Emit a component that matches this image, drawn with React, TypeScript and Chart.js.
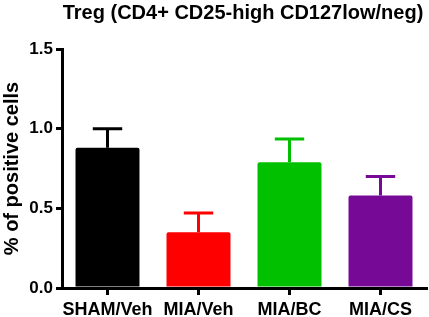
import React, { useEffect, useRef } from "react";
import { Chart, registerables } from "chart.js";

Chart.register(...registerables);

const categories = ["SHAM/Veh", "MIA/Veh", "MIA/BC", "MIA/CS"];
const means = [0.88, 0.35, 0.79, 0.58];
const errorTops = [1.0, 0.47, 0.935, 0.7];
const barColors = ["#000000", "#ff0000", "#00c000", "#760a96"];
const yTicks = [0, 0.5, 1.0, 1.5];
const chartTitle = "Treg (CD4+ CD25-high CD127low/neg)";
const yTitle = "% of positive cells";

const FONT = "'Liberation Sans', Arial, Helvetica, sans-serif";

const errorBarPlugin = {
  id: "errorBars",
  afterDatasetsDraw(chart: any) {
    const ctx = chart.ctx;
    const meta = chart.getDatasetMeta(0);
    const y = chart.scales.y;
    ctx.save();
    meta.data.forEach((bar: any, i: number) => {
      const x = bar.x;
      const top = y.getPixelForValue(errorTops[i]);
      const base = y.getPixelForValue(means[i]);
      const capHalf = bar.width * 0.23;
      ctx.strokeStyle = barColors[i];
      ctx.lineWidth = 3;
      ctx.lineCap = "butt";
      ctx.beginPath();
      ctx.moveTo(x, base);
      ctx.lineTo(x, top);
      ctx.moveTo(x - capHalf, top);
      ctx.lineTo(x + capHalf, top);
      ctx.stroke();
    });
    ctx.restore();
  },
};

const titlePlugin = {
  id: "centeredTitle",
  afterDraw(chart: any) {
    const { ctx, chartArea } = chart;
    ctx.save();
    ctx.font = `bold 20px ${FONT}`;
    ctx.fillStyle = "#000";
    ctx.textAlign = "center";
    ctx.textBaseline = "alphabetic";
    ctx.fillText(chartTitle, (chartArea.left + chartArea.right) / 2 - 1, 19);
    ctx.restore();
  },
};

export default function App() {
  const canvasRef = useRef<HTMLCanvasElement | null>(null);

  useEffect(() => {
    if (!canvasRef.current) return;
    const chart = new Chart(canvasRef.current, {
      type: "bar",
      data: {
        labels: categories,
        datasets: [
          {
            data: means,
            backgroundColor: barColors,
            borderWidth: 0,
            borderRadius: 2,
            borderSkipped: "bottom",
            categoryPercentage: 1,
            barPercentage: 0.703,
          },
        ],
      },
      options: {
        responsive: false,
        animation: false,
        devicePixelRatio: 1,
        layout: { padding: { top: 49, right: 3, left: 0, bottom: 0 } },
        plugins: {
          legend: { display: false },
          tooltip: { enabled: false },
          title: { display: false },
        },
        scales: {
          x: {
            type: "category",
            afterFit: (s: any) => {
              s.height = 29;
            },
            grid: {
              display: true,
              drawOnChartArea: false,
              drawTicks: true,
              tickLength: 7,
              lineWidth: 3,
              color: "#000",
              offset: false,
            },
            border: { display: true, width: 3, color: "#000" },
            ticks: {
              color: "#000",
              padding: 4,
              font: { family: FONT, size: 18, weight: "bold" },
              maxRotation: 0,
              autoSkip: false,
            },
          },
          y: {
            min: 0,
            max: 1.5,
            afterFit: (s: any) => {
              s.width = 62;
            },
            afterBuildTicks: (s: any) => {
              s.ticks = yTicks.map((v) => ({ value: v }));
            },
            grid: {
              display: true,
              drawOnChartArea: false,
              drawTicks: true,
              tickLength: 6,
              lineWidth: 3,
              color: "#000",
            },
            border: { display: true, width: 3, color: "#000" },
            ticks: {
              color: "#000",
              padding: 3,
              font: { family: FONT, size: 17, weight: "bold" },
              callback: (v: any) => Number(v).toFixed(1),
            },
            title: {
              display: true,
              text: yTitle,
              color: "#000",
              padding: { top: 0, bottom: 0 },
              font: { family: FONT, size: 20, weight: "bold" },
            },
          },
        },
      },
      plugins: [errorBarPlugin, titlePlugin],
    });
    return () => chart.destroy();
  }, []);

  return (
    <div style={{ position: "fixed", left: 0, top: 0, width: 429, height: 317, background: "#fff" }}>
      <canvas ref={canvasRef} width={429} height={317} style={{ width: 429, height: 317, display: "block" }} />
    </div>
  );
}
